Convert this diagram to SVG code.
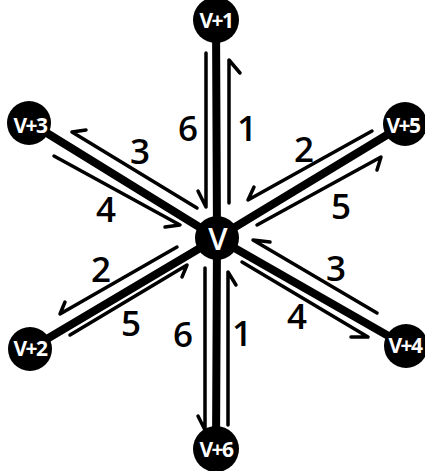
<svg xmlns="http://www.w3.org/2000/svg" width="425" height="471" viewBox="0 0 425 471">
<style>
.thick{stroke:#000;stroke-width:8;stroke-linecap:round;fill:none}
.thin{stroke:#000;stroke-width:3.5;stroke-linecap:round;stroke-linejoin:round;fill:none}
.node{fill:#000}
.nl{fill:#fff;font-family:"Open Sans","DejaVu Sans",sans-serif;font-weight:700;font-size:21px;text-anchor:middle;dominant-baseline:central;letter-spacing:-1.5px}
.cl{fill:#fff;font-family:"Open Sans","DejaVu Sans",sans-serif;font-weight:600;font-size:31px;text-anchor:middle;dominant-baseline:central}
.el{fill:#000;font-family:"Open Sans","DejaVu Sans",sans-serif;font-weight:600;font-size:35px;text-anchor:middle;dominant-baseline:central}
</style>
<rect width="425" height="471" fill="#fff"/>
<g id="connectors">
<path class="thick" d="M217,238 L216,20"/>
<path class="thick" d="M217,238 L216,449"/>
<path class="thick" d="M217,238 L29,122"/>
<path class="thick" d="M217,238 L405,124"/>
<path class="thick" d="M217,238 L30,349"/>
<path class="thick" d="M217,238 L406,346"/>
<path class="thin" d="M198,191 L206,207 L206,53"/>
<path class="thin" d="M229,203 L229,60 L240,73"/>
<path class="thin" d="M205,268 L205,430 L198,416"/>
<path class="thin" d="M228,425 L228,272 L236,285"/>
<path class="thin" d="M254,187 L248,200 L372,131"/>
<path class="thin" d="M257,225 L381,157 L377,170"/>
<path class="thin" d="M86,130 L72,132 L197,208"/>
<path class="thin" d="M54,156 L180,225 L165,227"/>
<path class="thin" d="M177,247 L60,314 L65,302"/>
<path class="thin" d="M70,335 L187,265 L182,277"/>
<path class="thin" d="M270,242 L253,240 L377,313"/>
<path class="thin" d="M242,262 L368,337 L351,337"/>
<text class="el" x="188" y="127">6</text>
<text class="el" x="247" y="127">1</text>
<text class="el" x="140" y="150">3</text>
<text class="el" x="106" y="208">4</text>
<text class="el" x="304" y="148">2</text>
<text class="el" x="341" y="205">5</text>
<text class="el" x="101" y="268">2</text>
<text class="el" x="131" y="322">5</text>
<text class="el" x="183" y="333">6</text>
<text class="el" x="242" y="332">1</text>
<text class="el" x="336" y="267">3</text>
<text class="el" x="297" y="315">4</text>
</g>
<g id="node-v"><circle class="node" cx="217" cy="238" r="22"/><text class="cl" x="218" y="238">V</text></g>
<g id="node-v1"><circle class="node" cx="216" cy="20" r="23"/><text class="nl" x="216" y="20">V+1</text></g>
<g id="node-v6"><circle class="node" cx="216" cy="449" r="23"/><text class="nl" x="216" y="449">V+6</text></g>
<g id="node-v3"><circle class="node" cx="29" cy="123" r="22"/><text class="nl" x="30" y="125">V+3</text></g>
<g id="node-v5"><circle class="node" cx="405" cy="124" r="22"/><text class="nl" x="403" y="125">V+5</text></g>
<g id="node-v2"><circle class="node" cx="30" cy="349" r="22"/><text class="nl" x="30" y="348">V+2</text></g>
<g id="node-v4"><circle class="node" cx="406" cy="346" r="22"/><text class="nl" x="405" y="345">V+4</text></g>
</svg>
